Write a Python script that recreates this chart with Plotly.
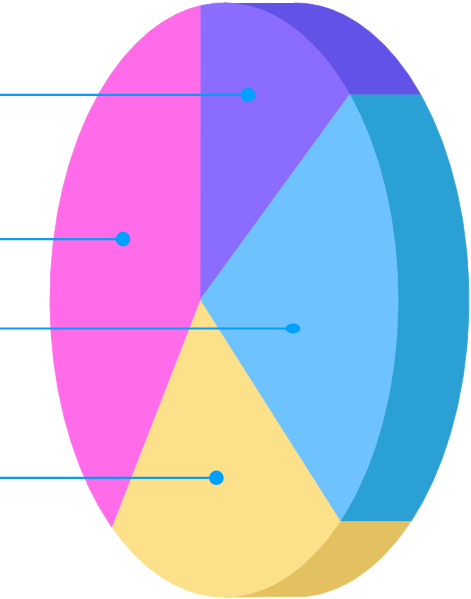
import numpy as np
import plotly.graph_objects as go

# ---- data ----
categories = ["A", "B", "C", "D"]
values = [14.3, 22.5, 22.6, 40.6]           # clockwise from 12 o'clock
front_colors = ["#8A6CFF", "#6EC2FD", "#FDE08A", "#FF6BE8"]
side_colors = ["#6352E8", "#2BA0D4", "#E4C160", "#D94FC4"]
# callout anchor inside each slice: fraction of slice angle, fraction of radius
label_angle_frac = [0.427, 0.60, 0.473, 0.553]
label_radius = [0.7235, 0.515, 0.604, 0.529]
dot_height = [14.6, 9.8, 14.6, 14.6]

# ---- geometry (perspective disc) ----
CX, CY = 200.0, 300.0      # projected centre of the disc
A, C, D = 170.7, -0.1379, 294.2
DEPTH = 71.0
LINE_COLOR = "#0A9BF5"
DOT_COLOR = "#00A0FF"


def proj(theta_deg, r=1.0, shift=0.0):
    th = np.radians(theta_deg)
    u = r * np.sin(th)
    v = r * np.cos(th)
    den = 1 + C * u
    return CX + A * u / den + shift, CY - D * v / den


# silhouette (horizontal tangents) of the disc
ts = np.linspace(0, 360, 36001)
_, ys = proj(ts)
th_top = ts[np.argmin(np.where(ts <= 180, ys, np.inf))]
th_bot = ts[np.argmax(np.where(ts <= 180, ys, -np.inf))]

total = sum(values)
bounds = np.concatenate([[0], np.cumsum(values) / total * 360])

fig = go.Figure()

# sides first
for i in range(len(values)):
    a0, a1 = max(bounds[i], th_top), min(bounds[i + 1], th_bot)
    if a1 <= a0:
        continue
    t = np.linspace(a0, a1, 200)
    fx, fy = proj(t)
    bx, by = proj(t[::-1], shift=DEPTH)
    fig.add_trace(go.Scatter(
        x=np.concatenate([fx, bx]), y=np.concatenate([fy, by]),
        fill="toself", fillcolor=side_colors[i], mode="lines",
        line=dict(color=side_colors[i], width=0.8),
        hoverinfo="skip", showlegend=False))

# front wedges
for i in range(len(values)):
    t = np.linspace(bounds[i], bounds[i + 1], 300)
    fx, fy = proj(t)
    fig.add_trace(go.Scatter(
        x=np.concatenate([[CX], fx, [CX]]), y=np.concatenate([[CY], fy, [CY]]),
        fill="toself", fillcolor=front_colors[i], mode="lines",
        line=dict(color=front_colors[i], width=0.8),
        name=categories[i], text=f"{categories[i]}: {values[i]}",
        hoverinfo="text", showlegend=False))

# callouts
shapes = []
for i in range(len(values)):
    ang = bounds[i] + label_angle_frac[i] * (bounds[i + 1] - bounds[i])
    px, py = proj(ang, r=label_radius[i])
    fig.add_trace(go.Scatter(
        x=[0, px], y=[py, py], mode="lines",
        line=dict(color=LINE_COLOR, width=2.2),
        hoverinfo="skip", showlegend=False))
    h = dot_height[i]
    shapes.append(dict(type="circle", xref="x", yref="y",
                       x0=px - 7.3, x1=px + 7.3, y0=py - h / 2, y1=py + h / 2,
                       fillcolor=DOT_COLOR, line=dict(width=0), layer="above"))

fig.update_layout(
    width=471, height=599, autosize=False,
    margin=dict(l=0, r=0, t=0, b=0),
    paper_bgcolor="white", plot_bgcolor="white",
    xaxis=dict(range=[0, 471], visible=False, fixedrange=True),
    yaxis=dict(range=[599, 0], visible=False, fixedrange=True),
    shapes=shapes,
)

fig.write_html("out.html")
